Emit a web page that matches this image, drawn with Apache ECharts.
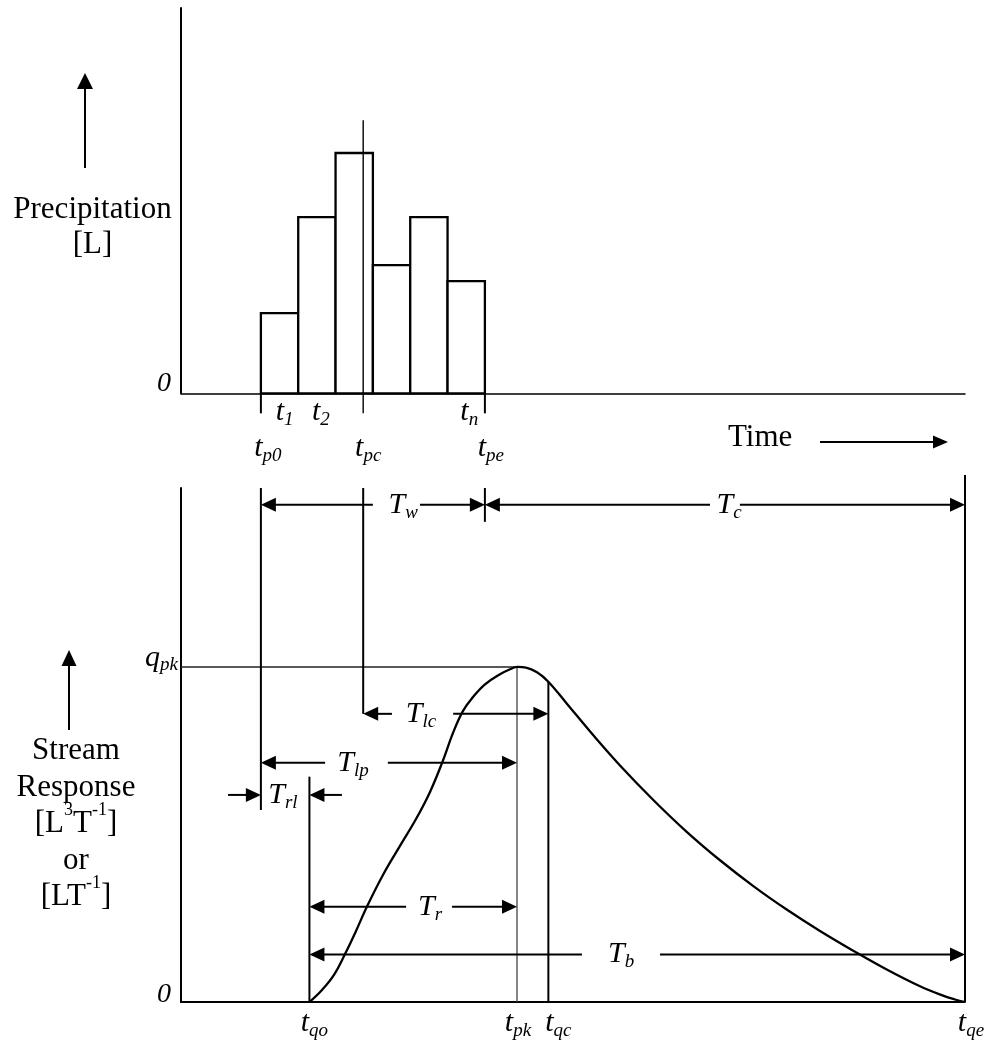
<!DOCTYPE html>
<html><head><meta charset="utf-8">
<script src="https://cdn.jsdelivr.net/npm/echarts@6/dist/echarts.min.js"></script>
<style>html,body{margin:0;padding:0;background:#fff}#chart{width:990px;height:1040px}</style>
</head><body><div id="chart"></div>
<script>
// ---------- time axis (arbitrary units; one rainfall interval = 1) ----------
const timeMin = 0;
const timeMax = 21;

// ---------- hyetograph (top) ----------
const rainStart = 2.14;                          // t_p0
const rainDt = 1;                                // interval length
const rainDepth = [1.0, 2.2, 3.0, 1.6, 2.2, 1.4];// t1 ... tn
const rainCentroid = 4.88;                       // t_pc
const rainEnd = 8.14;                            // t_pe
const precipMax = 4.81;

// ---------- hydrograph (bottom) ----------
const flowTime  = [3.44, 3.777, 4.098, 4.393, 4.688, 4.982, 5.438, 5.866, 6.295, 6.670, 6.991, 7.286, 7.554, 7.821, 8.143, 8.545, 8.813, 9.008, 9.241, 9.536, 9.839,
                   10.331, 11.044, 11.759, 12.651, 13.546, 14.438, 15.330, 16.224, 17.116, 18.008, 18.903, 19.795, 20.411, 20.732, 21.0];
const flowValue = [0.000, 0.036, 0.081, 0.143, 0.212, 0.285, 0.385, 0.466, 0.546, 0.627, 0.713, 0.803, 0.869, 0.910, 0.948, 0.978, 0.993, 1.000, 0.998, 0.984, 0.956,
                   0.891, 0.796, 0.706, 0.603, 0.508, 0.423, 0.346, 0.276, 0.212, 0.153, 0.097, 0.047, 0.019, 0.0075, 0.000];
const tqo = 3.44, tpk = 9.0, tqc = 9.84, tqe = 21.0;
const qpk = 1.0;
const flowMax = 1.534;

// ---------- time-parameter dimensions ----------
const dimLabels   = ['{m|T}{s|w}', '{m|T}{s|c}', '{m|T}{s|lc}', '{m|T}{s|lp}', '{m|T}{s|r}', '{m|T}{s|b}'];
const dimStart    = [rainStart, rainEnd, rainCentroid, rainStart, tqo, tqo];
const dimEnd      = [rainEnd, tqe, tqc, tpk, tpk, tqe];
const dimLevel    = [1.484, 1.484, 0.86, 0.714, 0.284, 0.142];
const dimGapStart = [5.14, 14.17, 5.65, 3.86, 6.03, 10.74];
const dimGapEnd   = [6.40, 14.97, 7.29, 5.54, 7.26, 12.83];
const dimLabelAt  = [5.95, 14.68, 6.43, 4.61, 6.67, 11.79];
const trlLevel = 0.618;          // T_rl (inward arrows)
const trlOuter = [1.26, 4.31];
const trlLabelAt = 2.73;

// ---------- styles ----------
const SERIF = '"Liberation Serif", "Times New Roman", serif';
const RICH = {
  m: {fontFamily: SERIF, fontStyle: 'italic', fontSize: 30, lineHeight: 34, color: '#000', fill: '#000'},
  s: {fontFamily: SERIF, fontStyle: 'italic', fontSize: 19, lineHeight: 34, padding: [16, 0, 0, 0], color: '#000', fill: '#000'}
};

function segmentSeries(idx, data, width, color, z) {
  return {
    type: 'custom', xAxisIndex: idx, yAxisIndex: idx, clip: false, silent: true, z: z,
    data: data,
    renderItem: function (params, api) {
      const a = api.coord([api.value(0), api.value(1)]);
      const b = api.coord([api.value(2), api.value(3)]);
      return {type: 'line', shape: {x1: a[0], y1: a[1], x2: b[0], y2: b[1]},
              style: {stroke: color, lineWidth: width}};
    }
  };
}

function arrowSeries(idx, data) {
  return {
    type: 'custom', xAxisIndex: idx, yAxisIndex: idx, clip: false, silent: true, z: 5,
    data: data,
    renderItem: function (params, api) {
      const tail = api.coord([api.value(0), api.value(2)]);
      const tip = api.coord([api.value(1), api.value(2)]);
      const dir = tip[0] > tail[0] ? 1 : -1;
      const L = 15, W = 14;
      const base = tip[0] - dir * L;
      return {type: 'group', children: [
        {type: 'line', shape: {x1: tail[0], y1: tail[1], x2: base + dir * 1, y2: tip[1]},
         style: {stroke: '#000', lineWidth: 2}},
        {type: 'polygon', shape: {points: [[tip[0], tip[1]], [base, tip[1] - W / 2], [base, tip[1] + W / 2]]},
         style: {fill: '#000'}}
      ]};
    }
  };
}

function textSeries(idx, items) {
  return {
    type: 'custom', xAxisIndex: idx, yAxisIndex: idx, clip: false, silent: true, z: 6,
    data: items.map(it => [it.x, it.y]),
    renderItem: function (params, api) {
      const it = items[params.dataIndex];
      const p = api.coord([api.value(0), api.value(1)]);
      return {type: 'text', x: p[0] + it.dx, y: p[1] + it.dy,
        style: {text: it.text, rich: RICH, fontFamily: SERIF, fontSize: 30, fontStyle: 'italic',
                align: 'center', textAlign: 'center', verticalAlign: 'middle', textVerticalAlign: 'middle',
                fill: '#000'}};
    }
  };
}

// ---------- derived marks ----------
const barData = rainDepth.map((d, i) => [rainStart + i * rainDt, rainStart + (i + 1) * rainDt, d]);

const topTicks = [[rainStart, 0, rainStart, -0.25], [rainEnd, 0, rainEnd, -0.25]];
const topCentroid = [[rainCentroid, 3.41, rainCentroid, -0.25]];

const topLabels = [
  {text: '{m|t}{s|1}',  x: rainStart + 0.5 * rainDt, y: 0, dx: 5, dy: 19},
  {text: '{m|t}{s|2}',  x: rainStart + 1.5 * rainDt, y: 0, dx: 4, dy: 19},
  {text: '{m|t}{s|n}',  x: rainStart + (rainDepth.length - 0.5) * rainDt, y: 0, dx: 3, dy: 19},
  {text: '{m|t}{s|p0}', x: rainStart, y: 0, dx: 7, dy: 55},
  {text: '{m|t}{s|pc}', x: rainCentroid, y: 0, dx: 5, dy: 55},
  {text: '{m|t}{s|pe}', x: rainEnd, y: 0, dx: 6, dy: 55}
];

const bottomLines = [
  [rainStart, flowMax, rainStart, 0.573],
  [rainCentroid, flowMax, rainCentroid, 0.86],
  [rainEnd, flowMax, rainEnd, 1.433],
  [tqo, 0.6725, tqo, 0],
  [tqc, 0.956, tqc, 0],
  [tqe, 1.573, tqe, 0]
];
const bottomThin = [[tpk, qpk, tpk, 0]];
const peakLine = [[timeMin, qpk, tpk, qpk]];

const arrowData = [];
for (let i = 0; i < dimLabels.length; i++) {
  arrowData.push([dimGapStart[i], dimStart[i], dimLevel[i]]);
  arrowData.push([dimGapEnd[i], dimEnd[i], dimLevel[i]]);
}
arrowData.push([trlOuter[0], rainStart, trlLevel]);
arrowData.push([trlOuter[1], tqo, trlLevel]);

const bottomLabels = dimLabels.map((t, i) => ({text: t, x: dimLabelAt[i], y: dimLevel[i], dx: 0, dy: 0}));
bottomLabels.push({text: '{m|T}{s|rl}', x: trlLabelAt, y: trlLevel, dx: 0, dy: 0});
bottomLabels.push({text: '{m|t}{s|qo}', x: tqo, y: 0, dx: 5, dy: 21});
bottomLabels.push({text: '{m|t}{s|pk}', x: tpk, y: 0, dx: 1, dy: 21});
bottomLabels.push({text: '{m|t}{s|qc}', x: tqc, y: 0, dx: 10, dy: 21});
bottomLabels.push({text: '{m|t}{s|qe}', x: tqe, y: 0, dx: 6, dy: 21});

// ---------- axes ----------
function xAxisDef(idx, w) {
  return {gridIndex: idx, type: 'value', min: timeMin, max: timeMax,
    axisLine: {show: true, onZero: false, lineStyle: {color: '#000', width: w}},
    axisTick: {show: false}, axisLabel: {show: false}, splitLine: {show: false}};
}

const chart = echarts.init(document.getElementById('chart'), null, {renderer: 'canvas'});
chart.setOption({
  animation: false,
  backgroundColor: '#fff',
  grid: [
    {left: 181, right: 25, top: 8, height: 385.3, outerBoundsMode: 'none'},
    {left: 181, right: 25, top: 488, height: 514, outerBoundsMode: 'none'}
  ],
  xAxis: [xAxisDef(0, 1.5), xAxisDef(1, 1.8)],
  yAxis: [
    {gridIndex: 0, type: 'value', min: 0, max: precipMax,
     axisLine: {show: true, lineStyle: {color: '#000', width: 2}},
     axisTick: {show: false}, splitLine: {show: false},
     axisLabel: {show: true, customValues: [0], margin: 10, verticalAlign: 'bottom',
       formatter: () => '{z|0}',
       rich: {z: {fontFamily: SERIF, fontStyle: 'italic', fontSize: 28, lineHeight: 20, color: '#000'}}}},
    {gridIndex: 1, type: 'value', min: 0, max: flowMax,
     axisLine: {show: true, lineStyle: {color: '#000', width: 2}},
     axisTick: {show: false}, splitLine: {show: false},
     axisLabel: {show: true, customValues: [0, qpk], margin: 3, verticalAlign: 'bottom',
       formatter: v => (v === 0 ? '{z|0}' : '{q|q}{k|pk}'),
       rich: {
         z: {fontFamily: SERIF, fontStyle: 'italic', fontSize: 28, lineHeight: 14, padding: [0, 7, 0, 0], color: '#000'},
         q: {fontFamily: SERIF, fontStyle: 'italic', fontSize: 30, lineHeight: 18, color: '#000'},
         k: {fontFamily: SERIF, fontStyle: 'italic', fontSize: 19, lineHeight: 18, padding: [14, 0, 0, 0], color: '#000'}
       }}}
  ],
  series: [
    {type: 'custom', name: 'Precipitation', xAxisIndex: 0, yAxisIndex: 0, clip: false, z: 2,
     data: barData, encode: {x: [0, 1], y: 2},
     renderItem: function (params, api) {
       const p0 = api.coord([api.value(0), 0]);
       const p1 = api.coord([api.value(1), api.value(2)]);
       return {type: 'rect', shape: {x: p0[0], y: p1[1], width: p1[0] - p0[0], height: p0[1] - p1[1]},
               style: {fill: '#fff', stroke: '#000', lineWidth: 2.3}};
     }},
    segmentSeries(0, topTicks, 2, '#000', 3),
    segmentSeries(0, topCentroid, 1.4, '#000', 4),
    textSeries(0, topLabels),

    segmentSeries(1, peakLine, 1.5, '#222', 3),
    segmentSeries(1, bottomThin, 1.3, '#444', 3),
    segmentSeries(1, bottomLines, 2, '#000', 3),
    {type: 'line', name: 'Stream response', xAxisIndex: 1, yAxisIndex: 1, clip: false, z: 4,
     data: flowTime.map((t, i) => [t, flowValue[i]]),
     smooth: 0.4, showSymbol: false, symbol: 'none',
     lineStyle: {color: '#000', width: 2.3}},
    arrowSeries(1, arrowData),
    textSeries(1, bottomLabels)
  ],
  graphic: [
    {type: 'text', x: 92.5, y: 192.5, silent: true,
     style: {text: 'Precipitation\n[L]', fontFamily: SERIF, fontSize: 31, lineHeight: 35,
             align: 'center', textAlign: 'center', verticalAlign: 'top', textVerticalAlign: 'top', fill: '#000'}},
    {type: 'line', silent: true, shape: {x1: 85, y1: 168, x2: 85, y2: 86}, style: {stroke: '#000', lineWidth: 2}},
    {type: 'polygon', silent: true, shape: {points: [[85, 73], [77, 89], [93, 89]]}, style: {fill: '#000'}},

    {type: 'text', x: 76, y: 733, silent: true,
     style: {text: 'Stream\nResponse\n[L{p|3}T{p|-1}]\nor\n[LT{p|-1}]', fontFamily: SERIF, fontSize: 31, lineHeight: 36.5,
             align: 'center', textAlign: 'center', verticalAlign: 'top', textVerticalAlign: 'top', fill: '#000',
             rich: {p: {fontFamily: SERIF, fontSize: 18, lineHeight: 36.5, padding: [0, 0, 27, 0], fill: '#000', color: '#000'}}}},
    {type: 'line', silent: true, shape: {x1: 69, y1: 730, x2: 69, y2: 663}, style: {stroke: '#000', lineWidth: 2}},
    {type: 'polygon', silent: true, shape: {points: [[69, 650], [61.5, 666], [76.5, 666]]}, style: {fill: '#000'}},

    {type: 'text', x: 728, y: 438, silent: true,
     style: {text: 'Time', fontFamily: SERIF, fontSize: 31, align: 'left', textAlign: 'left',
             verticalAlign: 'middle', textVerticalAlign: 'middle', fill: '#000'}},
    {type: 'line', silent: true, shape: {x1: 820, y1: 442, x2: 935, y2: 442}, style: {stroke: '#000', lineWidth: 1.8}},
    {type: 'polygon', silent: true, shape: {points: [[948, 442], [933, 435.5], [933, 448.5]]}, style: {fill: '#000'}}
  ]
});
</script>
</body></html>
